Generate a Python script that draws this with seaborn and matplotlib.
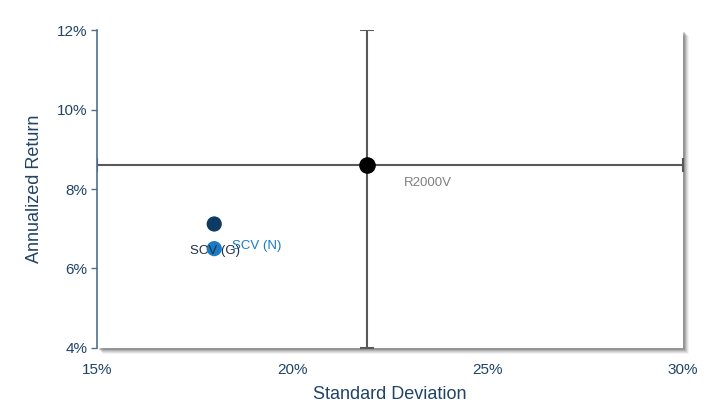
import matplotlib
matplotlib.use('Agg')
import matplotlib.pyplot as plt
import matplotlib.patches as mpatches
import seaborn as sns
import pandas as pd
from matplotlib.ticker import FuncFormatter

# ==========================================
# DADOS
# ==========================================
names = ['SCV (N)', 'SCV (G)']
std_dev = [18.0, 18.0]
ann_ret = [7.12, 6.50]
point_colors = ['#0d3b61', '#1b7bc4']
label_colors = ['#1b7bc4', '#1f2f45']
label_offsets = [(13, -16), (-17.5, -2)]

bench_name = 'R2000V'
bench_x = 21.9
bench_y = 8.6

x_ticks = [15, 20, 25, 30]
y_ticks = [4, 6, 8, 10, 12]

df = pd.DataFrame({'name': names, 'sd': std_dev, 'ret': ann_ret})

# ==========================================
# ESTILO
# ==========================================
sns.set_theme(style="white")
plt.rcParams['font.family'] = ['Liberation Sans', 'DejaVu Sans']
navy = '#1f4468'

fig = plt.figure(figsize=(7.23, 4.17), dpi=100)
ax = fig.add_axes([0.1342, 0.1655, 0.8105, 0.7625])

# sombra da área do gráfico
for i, a in enumerate([0.05, 0.07, 0.09, 0.12, 0.16]):
    off = (6 - i) / 723
    offy = (6 - i) / 417
    rect = mpatches.Rectangle((0.1342 + off, 0.1655 - offy), 0.8105, 0.7625,
                              transform=fig.transFigure, facecolor='black',
                              alpha=a, edgecolor='none', zorder=-1)
    fig.patches.append(rect)
ax.set_facecolor('white')
ax.patch.set_zorder(0)

# linhas de referência (cruz do benchmark)
ax.errorbar([bench_x], [bench_y],
            xerr=[[bench_x - x_ticks[0]], [x_ticks[-1] - bench_x]],
            yerr=[[bench_y - y_ticks[0]], [y_ticks[-1] - bench_y]],
            fmt='none', ecolor='#595959', elinewidth=1.5, capsize=5, capthick=1.5,
            zorder=2)
ax.scatter([bench_x], [bench_y], s=120, color='black', zorder=4)
ax.annotate(bench_name, (bench_x, bench_y), xytext=(27, -13), textcoords='offset points',
            fontsize=9.5, color='#7f7f7f', ha='left', va='center')

sns.scatterplot(data=df, x='sd', y='ret', hue='name', palette=point_colors,
                s=120, edgecolor='none', legend=False, ax=ax, zorder=5)
for i, n in enumerate(names):
    ax.annotate(n, (std_dev[i], ann_ret[i]), xytext=label_offsets[i],
                textcoords='offset points', fontsize=9.5, color=label_colors[i],
                ha='left', va='center', zorder=6)

ax.set_xlim(x_ticks[0], x_ticks[-1])
ax.set_ylim(y_ticks[0], y_ticks[-1])
ax.set_xticks(x_ticks)
ax.set_yticks(y_ticks)
pct = FuncFormatter(lambda v, p: f"{v:.0f}%")
ax.xaxis.set_major_formatter(pct)
ax.yaxis.set_major_formatter(pct)

for s in ['top', 'right', 'bottom']:
    ax.spines[s].set_visible(False)
ax.spines['left'].set_color('#4f6f8f')
ax.spines['left'].set_linewidth(1.2)
ax.tick_params(axis='y', left=True, length=4, width=1, color='#4f6f8f',
               labelsize=11, labelcolor=navy, pad=3)
ax.tick_params(axis='x', bottom=False, labelsize=11, labelcolor=navy, pad=5)

ax.set_xlabel('Standard Deviation', fontsize=13, color=navy, labelpad=6)
ax.set_ylabel('Annualized Return', fontsize=13, color=navy, labelpad=10)

fig.savefig('out.png', dpi=100)
